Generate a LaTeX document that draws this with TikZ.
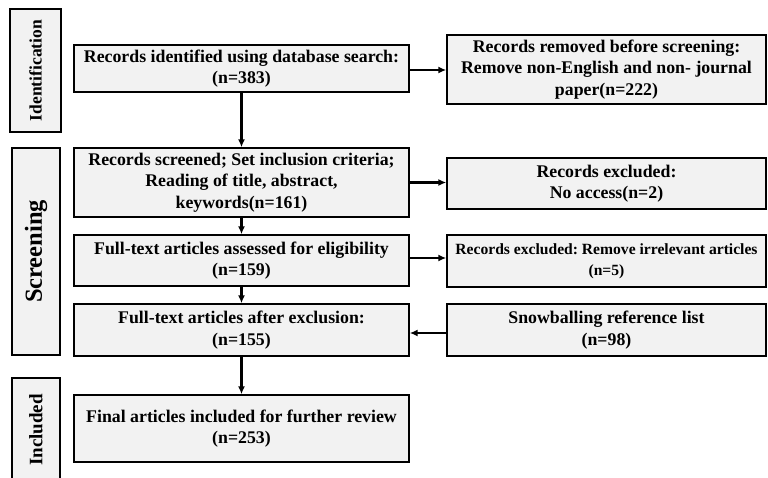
\documentclass[tikz,border=0pt]{standalone}
\usepackage{fontspec}
\setmainfont{Liberation Serif}
\usepackage{tikz}
\usetikzlibrary{arrows.meta}
\frenchspacing

\begin{document}
\begin{tikzpicture}[x=1pt,y=-1pt,
	stepbox/.style={draw=black,line width=1.4pt,fill=boxgray,align=center,inner sep=1pt,font=\bfseries\fontsize{17.8}{21.5}\selectfont},
	phase/.style={draw=black,line width=1.4pt,fill=boxgray,rotate=90,inner sep=0pt,font=\bfseries\fontsize{17.5}{20}\selectfont},
	flow/.style={-{Latex[length=8pt,width=7pt]},line width=2.5pt}]
	
	\definecolor{boxgray}{HTML}{F2F2F2}
	\clip (0,0) rectangle (768,478);
	
	\node[phase,minimum width=123,minimum height=51] (ident) at (35.5,70.5) {Identification};
	\node[phase,minimum width=207,minimum height=48,font=\bfseries\fontsize{24.5}{28}\selectfont] (screen) at (36,251.5) {Screening};
	\node[phase,minimum width=104,minimum height=48,font=\bfseries\fontsize{19}{22}\selectfont] (incl) at (36,430) {Included};
	
	\node[stepbox,minimum width=335,minimum height=47] (found) at (241.5,68.5) {Records identified using database search:\\(n=383)};
	\node[stepbox,minimum width=335,minimum height=69] (screened) at (241.5,182.5) {Records screened; Set inclusion criteria;\\Reading of title, abstract,\\keywords(n=161)};
	\node[stepbox,minimum width=335,minimum height=51] (assessed) at (241.5,260.5) {Full-text articles assessed for eligibility\\(n=159)};
	\node[stepbox,minimum width=335,minimum height=52] (after) at (241.5,330) {Full-text articles after exclusion:\\(n=155)};
	\node[stepbox,minimum width=335,minimum height=67] (final) at (241.5,428.5) {Final articles included for further review\\(n=253)};
	
	\node[stepbox,minimum width=319,minimum height=69] (removed) at (606.5,69.5) {Records removed before screening:\\Remove non-English and non- journal\\paper(n=222)};
	\node[stepbox,minimum width=319,minimum height=51] (noaccess) at (606.5,183.5) {Records excluded:\\No access(n=2)};
	\node[stepbox,minimum width=319,minimum height=52,font=\bfseries\fontsize{15.6}{21.5}\selectfont] (irrelevant) at (606.5,261) {Records excluded: Remove irrelevant articles\\(n=5)};
	\node[stepbox,minimum width=319,minimum height=52] (snowball) at (606.5,330) {Snowballing reference list\\(n=98)};
	
	\draw[flow] (found) -- (screened);
	\draw[flow] (screened) -- (assessed);
	\draw[flow] (assessed) -- (after);
	\draw[flow] (after) -- (final);
	
	\draw[flow] ([yshift=-1.5]found.east) -- ([yshift=-1.5]found.east -| removed.west);
	\draw[flow] (screened.east) -- (screened.east -| noaccess.west);
	\draw[flow] ([yshift=2.5]assessed.east) -- ([yshift=2.5]assessed.east -| irrelevant.west);
	\draw[flow] ([yshift=-3]snowball.west) -- ([yshift=-3]snowball.west -| after.east);
	
\end{tikzpicture}
\end{document}
